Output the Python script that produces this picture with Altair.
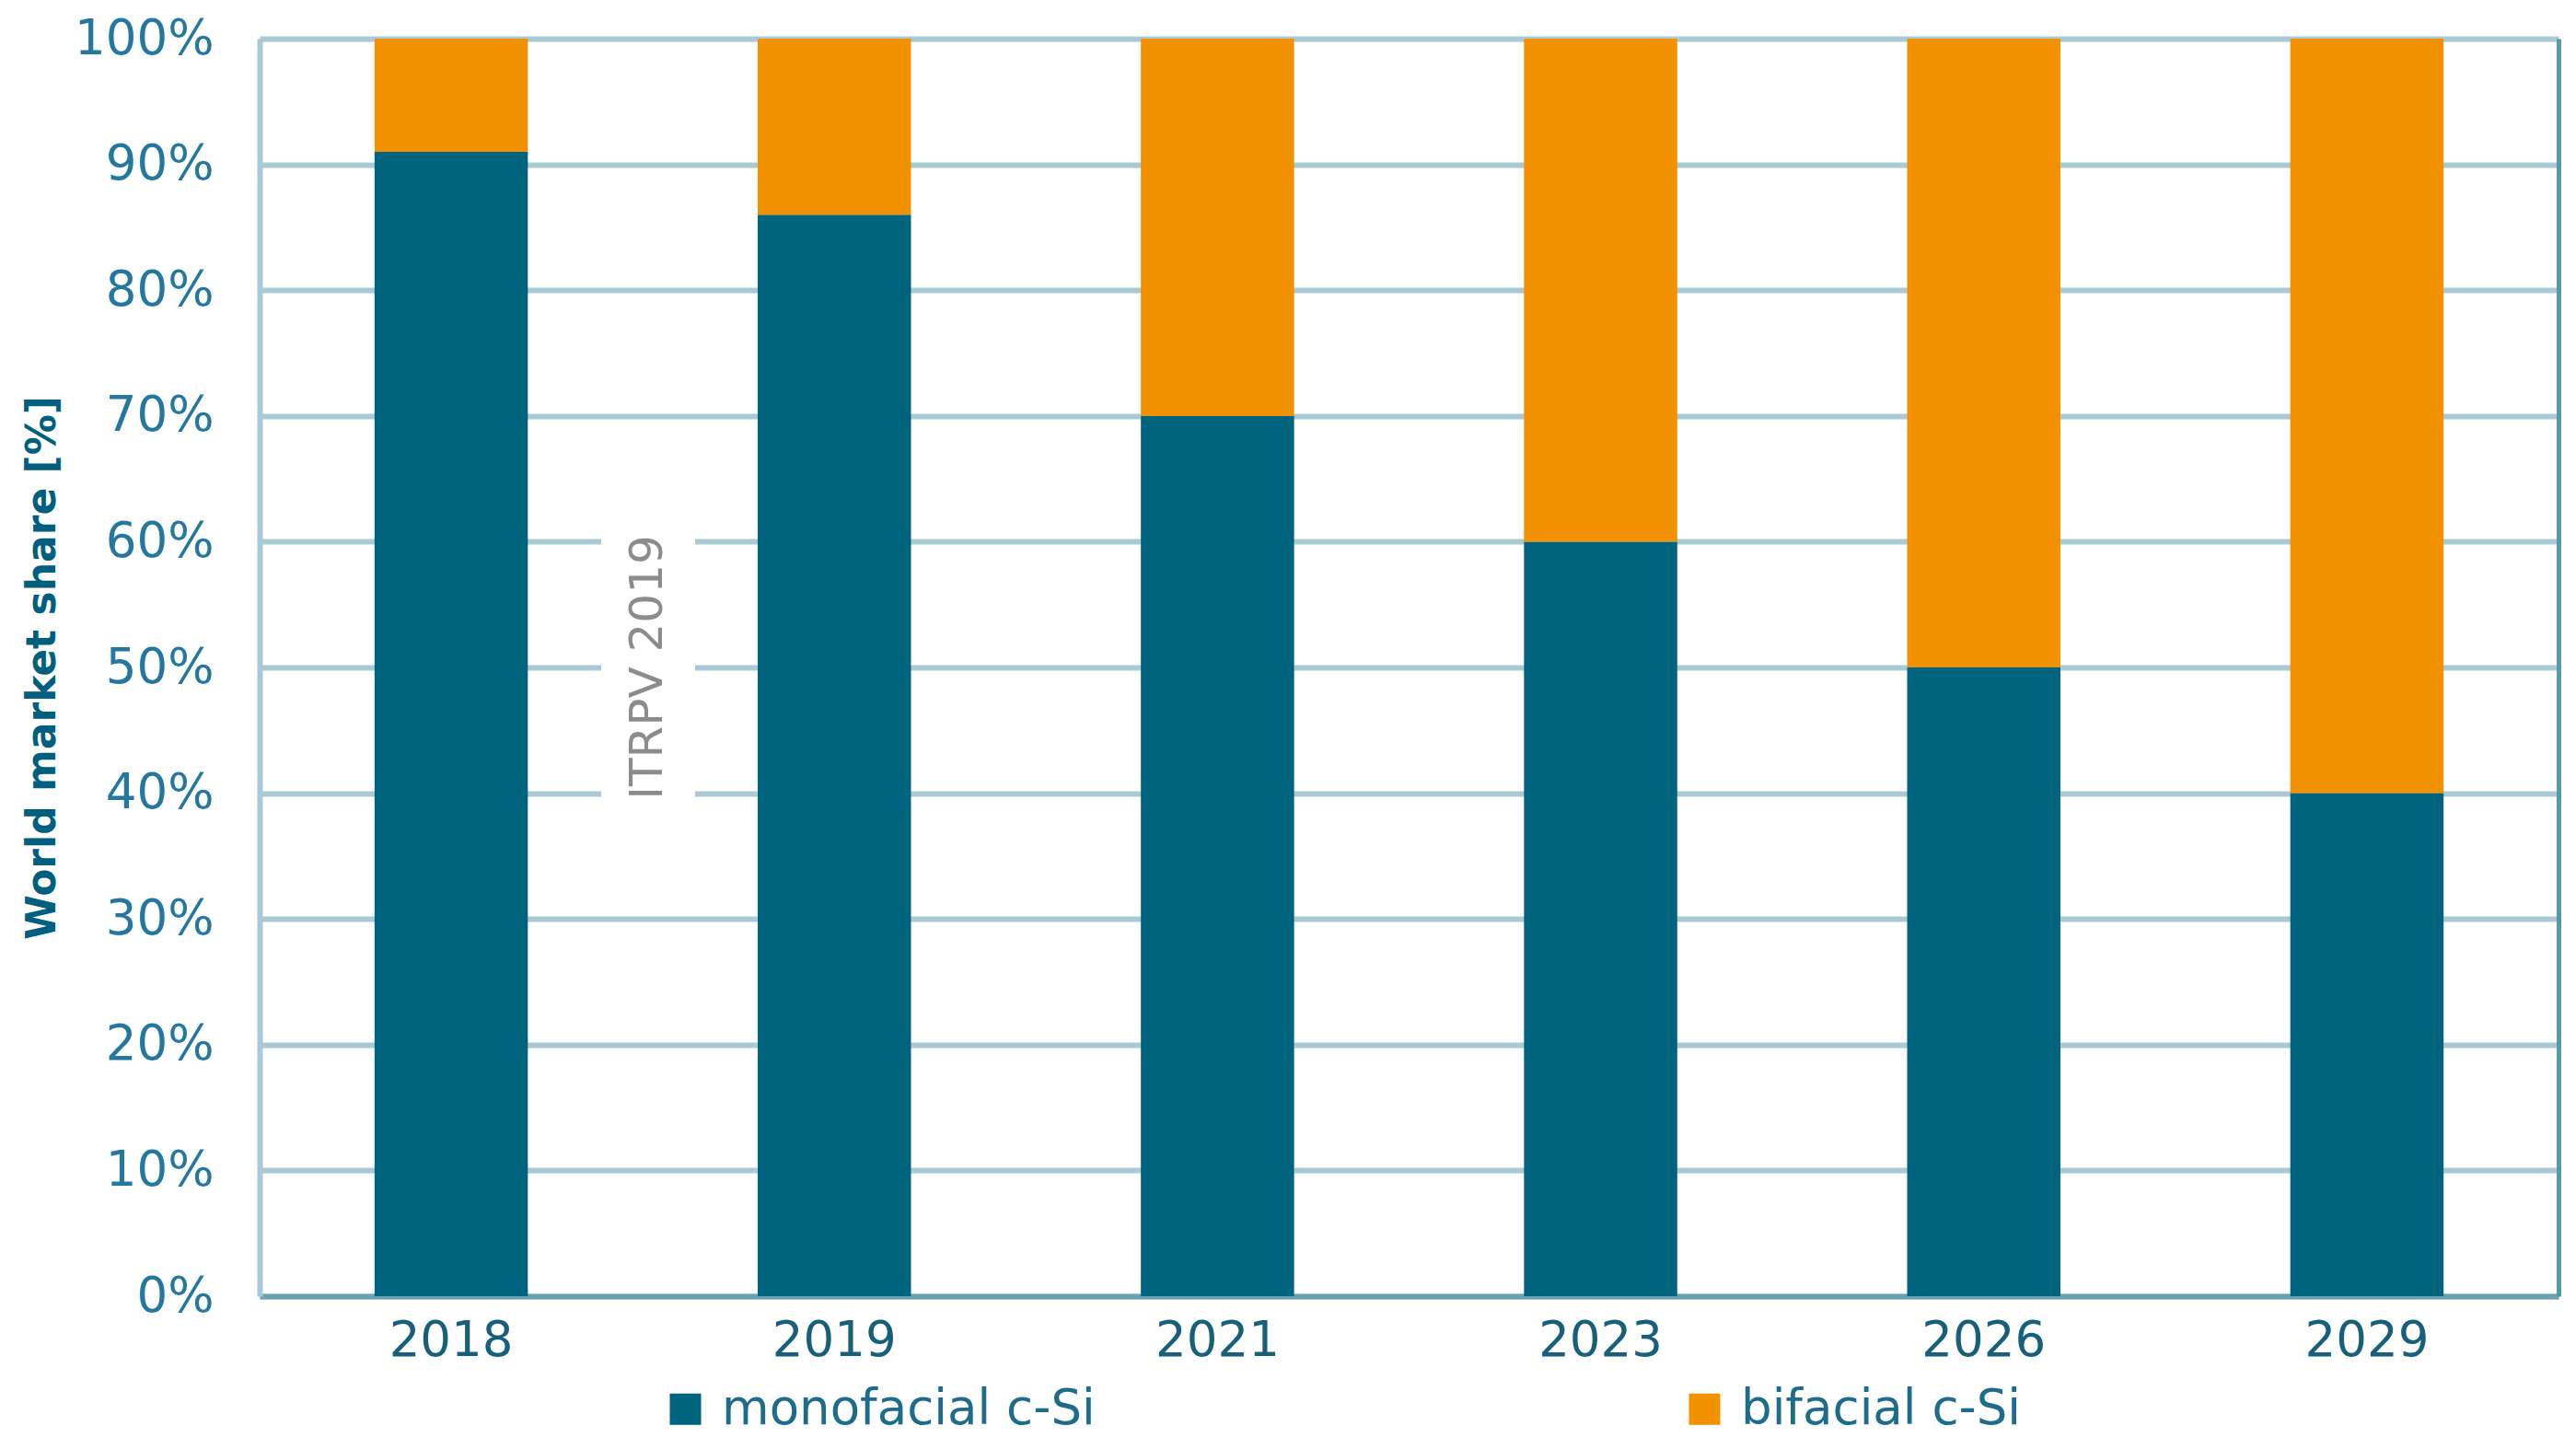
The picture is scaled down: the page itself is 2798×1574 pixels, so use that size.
import altair as alt
import pandas as pd

# ---- data ----
years = ["2018", "2019", "2021", "2023", "2026", "2029"]
monofacial = [91, 86, 70, 60, 50, 40]
bifacial = [9, 14, 30, 40, 50, 60]
series = ["monofacial c-Si", "bifacial c-Si"]
colors = ["#00647f", "#f39200"]
y_ticks = [0, 10, 20, 30, 40, 50, 60, 70, 80, 90, 100]
annotation = ["ITRPV 2019"]
annotation_y = [50]
annotation_lo = [37]
annotation_hi = [63]

rows = []
for i, yr in enumerate(years):
    rows.append({"year": yr, "series": series[0], "share": monofacial[i], "ord": 0})
    rows.append({"year": yr, "series": series[1], "share": bifacial[i], "ord": 1})
df = pd.DataFrame(rows)

W, H = 2497, 1366
FONT = "DejaVu Sans"
GRID = "#a9cad5"

yscale = alt.Scale(domain=[0, 100], nice=False, zero=True)

bars = alt.Chart(df).mark_bar().encode(
    x=alt.X(
        "year:N", sort=years,
        scale=alt.Scale(paddingInner=0.6, paddingOuter=0.3),
        axis=alt.Axis(title=None, labelAngle=0, labelFont=FONT, labelFontSize=53,
                      labelColor="#16607c", labelPadding=22, ticks=False,
                      domainColor="#6ea2b3", domainWidth=6, grid=False),
    ),
    y=alt.Y(
        "share:Q", stack="zero", scale=yscale,
        axis=alt.Axis(values=y_ticks, labelExpr="datum.value + '%'",
                      title="World market share [%]", grid=True, gridColor=GRID,
                      gridWidth=6, domainColor=GRID, domainWidth=6, ticks=False,
                      labelFont=FONT, labelFontSize=53, labelColor="#2478a0",
                      labelPadding=50, titleFont=FONT, titleFontWeight="bold",
                      titleFontSize=44, titleColor="#005f7f", titleX=-236,
                      titleY=683, titleAngle=270, titleAlign="center",
                      titleBaseline="middle"),
    ),
    color=alt.Color(
        "series:N", scale=alt.Scale(domain=series, range=colors),
        legend=alt.Legend(title=None, orient="none", legendX=436, legendY=1462,
                          direction="horizontal", columns=2, columnPadding=635,
                          symbolType="square", symbolSize=1156, symbolStrokeWidth=0,
                          labelFont=FONT, labelFontSize=53, labelColor="#1e6c8c",
                          labelOffset=13, labelLimit=1000, padding=0),
    ),
    order=alt.Order("ord:Q", sort="ascending"),
)

band_df = pd.DataFrame({"lo": annotation_lo, "hi": annotation_hi})
band = alt.Chart(band_df).mark_rect(color="white").encode(
    x=alt.value(371), x2=alt.value(473),
    y=alt.Y("lo:Q", scale=yscale,
            axis=alt.Axis(orient="right", labels=False, ticks=False, grid=False,
                          title=None, domainColor="#5599ab", domainWidth=5)),
    y2="hi:Q",
)

text_df = pd.DataFrame({"label": annotation, "y": annotation_y})
text = alt.Chart(text_df).mark_text(
    angle=270, font=FONT, fontSize=50, color="#8c8c8c", align="center", baseline="middle"
).encode(
    x=alt.value(422),
    y=alt.Y("y:Q", scale=yscale, axis=None),
    text="label:N",
)

chart = alt.layer(bars, band, text).resolve_axis(y="independent").properties(
    width=W, height=H,
    autosize=alt.AutoSizeParams(type="none"),
    padding={"left": 274, "top": 34, "right": 8, "bottom": 155},
).configure_view(stroke=None)

chart.save("out.html", embed_options={"renderer": "svg", "actions": False})
